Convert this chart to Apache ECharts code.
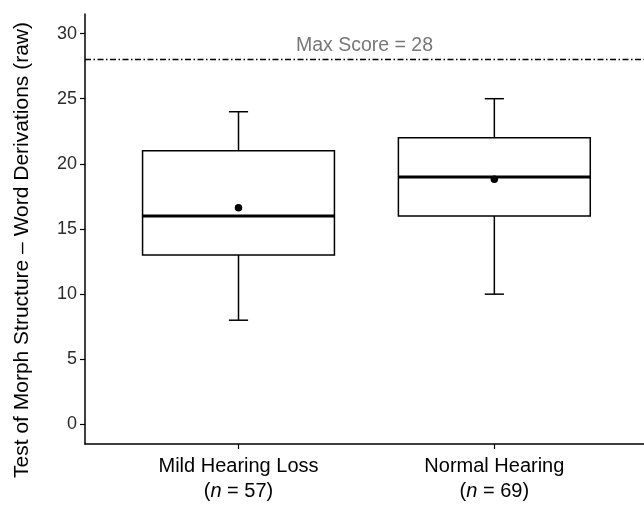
<!DOCTYPE html>
<html lang="en">
<head>
  <meta charset="UTF-8">
  <title>Morph Structure boxplot</title>
  <script src="https://cdn.jsdelivr.net/npm/echarts@6/dist/echarts.min.js"></script>
  <style>
    html, body { margin: 0; padding: 0; background: #fff; }
  </style>
</head>
<body>
  <div id="main" style="width: 644px;height:514px;"></div>
  <script>
    var myChart = echarts.init(document.getElementById('main'));

    // groups and sample sizes
    var groups = ['Mild Hearing Loss', 'Normal Hearing'];
    var groupN = [57, 69];
    var groupX = [1, 2];
    // [lower whisker, Q1, median, Q3, upper whisker]
    var boxStats = [
      [8, 13, 16, 21, 24],
      [10, 16, 19, 22, 25]
    ];
    var means = [16.63, 18.82];
    var maxScore = 28;
    var yTicks = [0, 5, 10, 15, 20, 25, 30];

    var boxData = boxStats.map(function (s, i) {
      return [groupX[i]].concat(s);
    });
    var meanData = means.map(function (m, i) {
      return [groupX[i], m];
    });

    var font = 'Liberation Sans, Arial, sans-serif';

    function renderBox(params, api) {
      var x = api.value(0);
      var half = 0.375, cap = 0.0375;
      var pMin = api.coord([x, api.value(1)]);
      var pQ1 = api.coord([x, api.value(2)]);
      var pMed = api.coord([x, api.value(3)]);
      var pQ3 = api.coord([x, api.value(4)]);
      var pMax = api.coord([x, api.value(5)]);
      var hw = api.size([half, 0])[0];
      var cw = api.size([cap, 0])[0];
      var thin = { stroke: '#000', lineWidth: 1.5, fill: null };
      return {
        type: 'group',
        children: [
          { type: 'line', shape: { x1: pMax[0], y1: pMax[1], x2: pQ3[0], y2: pQ3[1] }, style: thin },
          { type: 'line', shape: { x1: pMin[0], y1: pMin[1], x2: pQ1[0], y2: pQ1[1] }, style: thin },
          { type: 'line', shape: { x1: pMax[0] - cw, y1: pMax[1], x2: pMax[0] + cw, y2: pMax[1] }, style: thin },
          { type: 'line', shape: { x1: pMin[0] - cw, y1: pMin[1], x2: pMin[0] + cw, y2: pMin[1] }, style: thin },
          { type: 'rect', shape: { x: pQ3[0] - hw, y: pQ3[1], width: hw * 2, height: pQ1[1] - pQ3[1] }, style: { stroke: '#000', lineWidth: 1.5, fill: '#fff' } },
          { type: 'line', shape: { x1: pMed[0] - hw, y1: pMed[1], x2: pMed[0] + hw, y2: pMed[1] }, style: { stroke: '#000', lineWidth: 3 } }
        ]
      };
    }

    option = {
      animation: false,
      grid: { left: 85, right: 0, top: 14, bottom: 70 },
      xAxis: {
        type: 'value',
        min: 0.4,
        max: 2.585,
        splitLine: { show: false },
        axisLine: { onZero: false, lineStyle: { color: '#000', width: 1.5 } },
        axisTick: { customValues: groupX, length: 5, lineStyle: { color: '#000', width: 1.2 } },
        axisLabel: {
          customValues: groupX,
          margin: 10,
          lineHeight: 25,
          formatter: function (v) {
            var i = groupX.indexOf(Math.round(v));
            if (i < 0) return '';
            return '{t|' + groups[i] + '}\n{t|(}{i|n}{t| = ' + groupN[i] + ')}';
          },
          rich: {
            t: { fontFamily: font, fontSize: 20, color: '#000', lineHeight: 25 },
            i: { fontFamily: font, fontSize: 20, color: '#000', fontStyle: 'italic', lineHeight: 25 }
          }
        }
      },
      yAxis: {
        type: 'value',
        min: -1.5,
        max: 31.5,
        name: 'Test of Morph Structure \u2013 Word Derivations (raw)',
        nameLocation: 'middle',
        nameGap: 52,
        nameTextStyle: { fontFamily: font, fontSize: 21, color: '#000', padding: [0, 42, 0, 0] },
        splitLine: { show: false },
        axisLine: { show: true, onZero: false, lineStyle: { color: '#000', width: 1.5 } },
        axisTick: { show: true, customValues: yTicks, length: 5, lineStyle: { color: '#000', width: 1.2 } },
        axisLabel: { customValues: yTicks, margin: 8, fontFamily: font, fontSize: 18, color: '#2b2b2b' }
      },
      series: [
        {
          name: 'box',
          type: 'custom',
          renderItem: renderBox,
          encode: { x: 0, y: [1, 2, 3, 4, 5] },
          data: boxData,
          z: 2,
          markLine: {
            silent: true,
            symbol: 'none',
            lineStyle: { color: '#000', width: 1.3, type: [6, 2.5, 1.5, 2.5] },
            label: {
              show: true,
              position: 'insideMiddleTop',
              distance: 4,
              formatter: 'Max Score = ' + maxScore,
              fontFamily: font,
              fontSize: 19.5,
              color: '#777'
            },
            data: [{ yAxis: maxScore }]
          }
        },
        {
          name: 'mean',
          type: 'scatter',
          symbol: 'circle',
          symbolSize: 7.5,
          itemStyle: { color: '#000', opacity: 1 },
          data: meanData,
          z: 5
        }
      ]
    };

    myChart.setOption(option);
  </script>
</body>
</html>
